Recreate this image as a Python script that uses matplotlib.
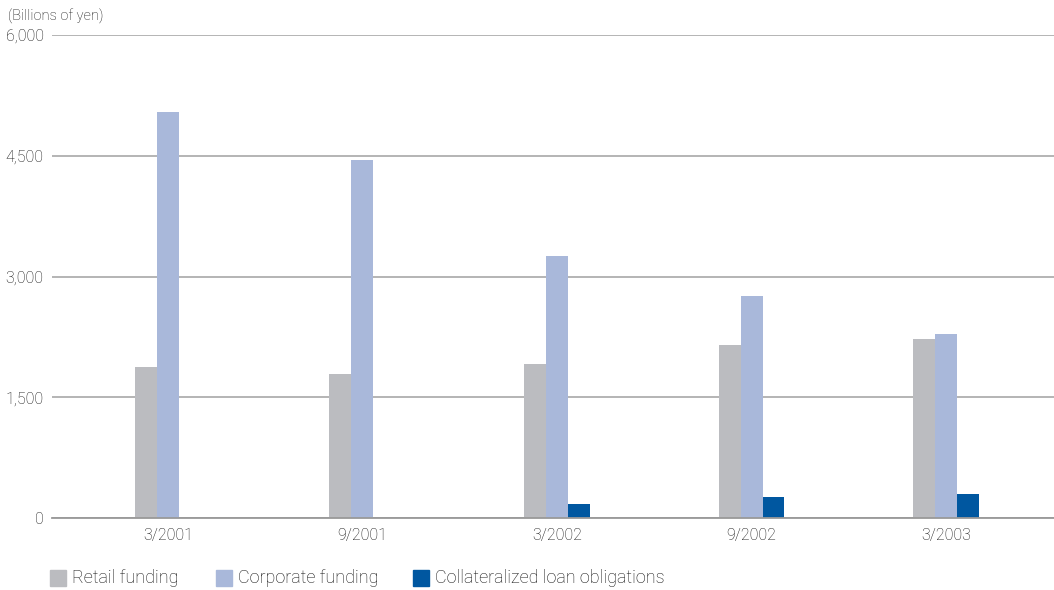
import matplotlib
matplotlib.use("Agg")
import matplotlib.pyplot as plt
from matplotlib.patches import Rectangle
import numpy as np

categories = ["3/2001", "9/2001", "3/2002", "9/2002", "3/2003"]
series_names = ["Retail funding", "Corporate funding", "Collateralized loan obligations"]
retail = [1870, 1790, 1910, 2150, 2225]
corporate = [5040, 4450, 3250, 2762, 2287]
clo = [0, 0, 170, 256, 297]
yticks = [0, 1500, 3000, 4500, 6000]
ytick_labels = ["0", "1,500", "3,000", "4,500", "6,000"]
colors = ["#BBBCC0", "#A9B8DA", "#0057A0"]

plt.rcParams['font.family'] = ['Roboto', 'DejaVu Sans']
text_color = "#111111"

fig = plt.figure(figsize=(10.54, 5.90), dpi=100)
ax = fig.add_axes([52/1054, 1-518/590, 1-52/1054, (518-35)/590])

x = np.arange(len(categories))
w = 0.113
for i, (vals, c) in enumerate(zip([retail, corporate, clo], colors)):
    ax.bar(x + (i-1)*w, vals, width=w, color=c, zorder=3, linewidth=0)

ax.set_xlim(-0.596, 4.555)
ax.set_ylim(0, 6000)
ax.set_yticks(yticks)
ax.set_yticklabels(ytick_labels)
ax.set_xticks(x)
ax.set_xticklabels(categories)
ax.grid(axis='y', color="#A8A8A8", linewidth=1.2, zorder=0)
for s in ['top', 'right', 'left']:
    ax.spines[s].set_visible(False)
ax.spines['bottom'].set_color("#999999")
ax.spines['bottom'].set_linewidth(1.3)
ax.spines['bottom'].set_zorder(4)
ax.tick_params(axis='both', length=0, labelsize=11.5, labelcolor=text_color)
ax.tick_params(axis='y', pad=6)
ax.tick_params(axis='x', pad=7)
for lab in ax.get_xticklabels() + ax.get_yticklabels():
    lab.set_fontweight('light')

fig.text(8/1054, 1-16/590, "(Billions of yen)", fontsize=10.5, color=text_color,
         ha='left', va='center', fontweight='light')

# legend
leg_x = [50, 216, 413]
for name, c, lx in zip(series_names, colors, leg_x):
    fig.patches.append(Rectangle((lx/1054, 1-586/590), 16/1054, 16/590,
                                 transform=fig.transFigure, color=c, figure=fig))
    fig.text((lx+22)/1054, 1-578/590, name, fontsize=13, color=text_color,
             ha='left', va='center', fontweight='light')

fig.savefig("out.png", dpi=100)
